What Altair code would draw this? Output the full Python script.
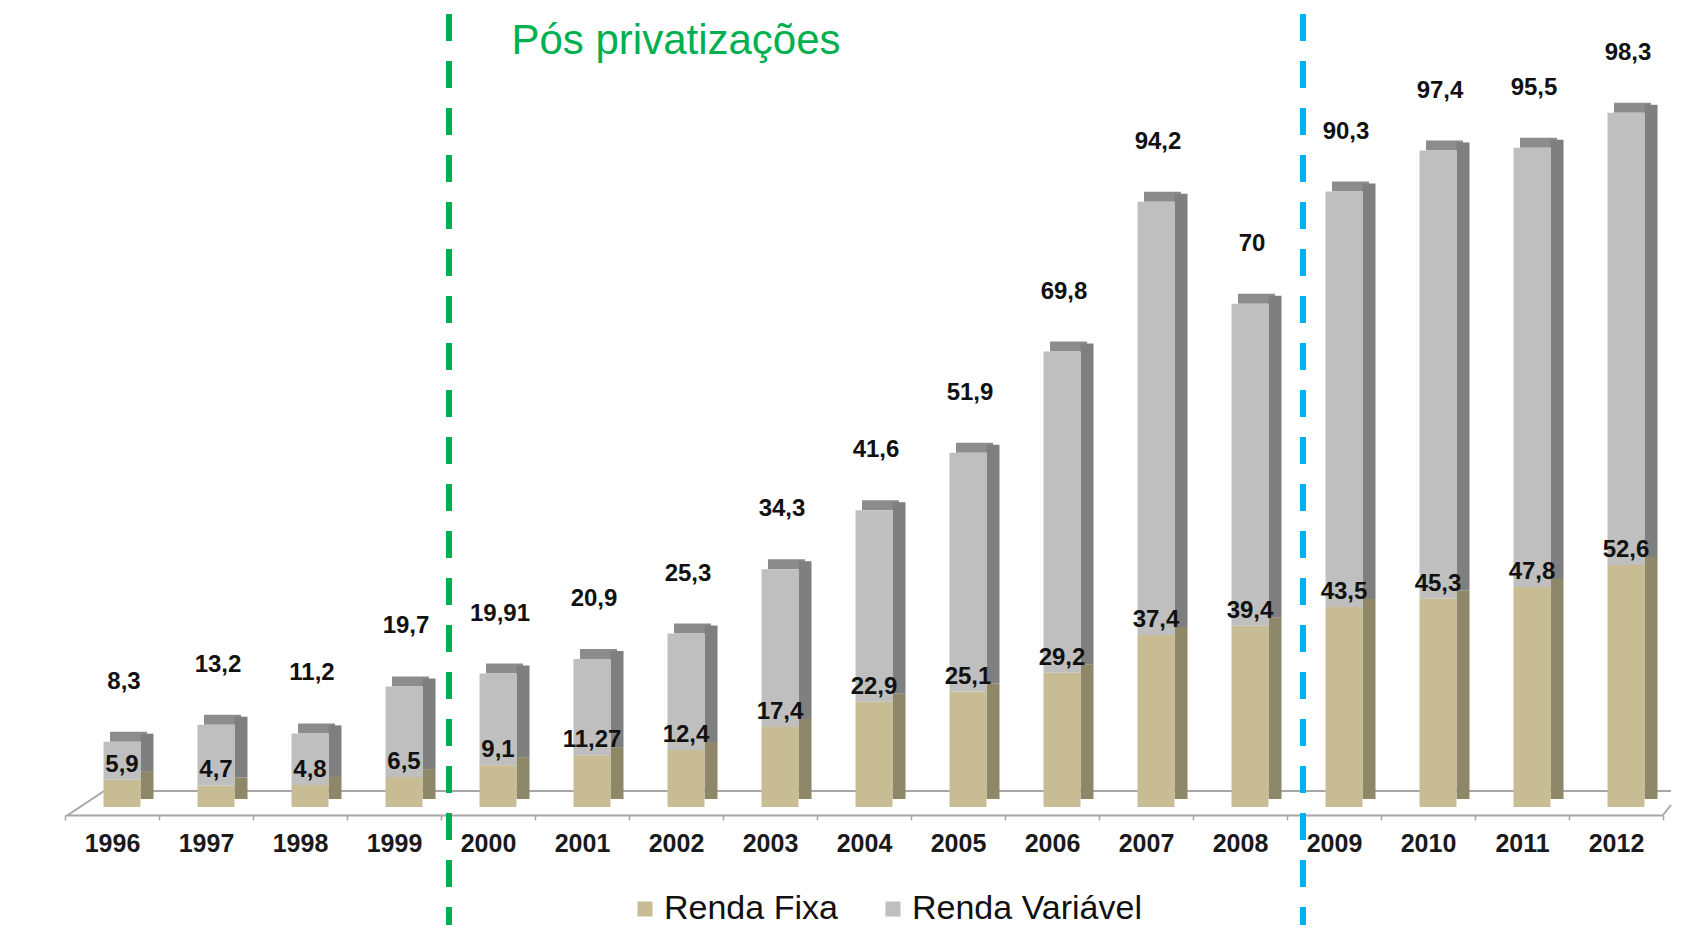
import altair as alt
import pandas as pd

years = [str(y) for y in range(1996, 2013)]
renda_fixa = [5.9, 4.7, 4.8, 6.5, 9.1, 11.27, 12.4, 17.4, 22.9, 25.1, 29.2, 37.4, 39.4, 43.5, 45.3, 47.8, 52.6]
renda_variavel = [8.3, 13.2, 11.2, 19.7, 19.91, 20.9, 25.3, 34.3, 41.6, 51.9, 69.8, 94.2, 70, 90.3, 97.4, 95.5, 98.3]
series = ["Renda Fixa", "Renda Variável"]
front_colors = ["#C7BC93", "#BFBFBF"]
side_colors = ["#8E8768", "#7F7F7F"]
top_color = "#8C8C8C"
title_text = "Pós privatizações"

n = len(years)
wide = pd.DataFrame({"ano": years, "fixa": renda_fixa, "variavel": renda_variavel})
wide["total"] = wide["fixa"] + wide["variavel"]
long = pd.DataFrame({
    "ano": years * 2,
    "serie": [series[0]] * n + [series[1]] * n,
    "valor": renda_fixa + renda_variavel,
    "ordem": [0] * n + [1] * n,
    "lado": [side_colors[0]] * n + [side_colors[1]] * n,
})
one = pd.DataFrame({"k": [0]})

W, H = 1598, 782
FONT = "Liberation Sans"

xenc = alt.X(
    "ano:N",
    scale=alt.Scale(domain=years, paddingInner=0, paddingOuter=0),
    axis=alt.Axis(
        title=None, labelAngle=0, offset=8, domainColor="#A6A6A6", domainWidth=2,
        tickBand="extent", tickSize=5, tickColor="#A6A6A6", tickWidth=1.5,
        labelPadding=11, labelFontSize=25, labelFont=FONT, labelFontWeight="bold",
        labelColor="#1a1a1a", grid=False,
    ),
)
yscale = alt.Scale(domain=[0, 170], nice=False)

# floor
floor_back = alt.Chart(one).mark_rule(color="#A6A6A6", strokeWidth=2).encode(
    x=alt.value(39), x2=alt.value(W + 8), y=alt.value(H - 16))
floor_left = alt.Chart(one).mark_rule(color="#A6A6A6", strokeWidth=2).encode(
    x=alt.value(3), y=alt.value(H + 8), x2=alt.value(39), y2=alt.value(H - 16))
floor_right = alt.Chart(one).mark_rule(color="#A6A6A6", strokeWidth=2).encode(
    x=alt.value(W), y=alt.value(H + 8), x2=alt.value(W + 8), y2=alt.value(H - 2))

top_face = alt.Chart(wide).mark_bar(width=37, xOffset=16.5, yOffset=-10, color=top_color).encode(
    x=xenc,
    y=alt.Y("total:Q", scale=yscale, axis=None),
    y2=alt.Y2("total:Q"),
)

side_face = alt.Chart(long).mark_bar(width=13, xOffset=35, yOffset=-8, y2Offset=-4).encode(
    x=xenc,
    y=alt.Y("valor:Q", stack="zero", scale=yscale, axis=None),
    color=alt.Color("lado:N", scale=None),
    order=alt.Order("ordem:Q"),
)

front_face = alt.Chart(long).mark_bar(width=37, xOffset=10).encode(
    x=xenc,
    y=alt.Y("valor:Q", stack="zero", scale=yscale, axis=None),
    color=alt.Color(
        "serie:N",
        scale=alt.Scale(domain=series, range=front_colors),
        legend=alt.Legend(
            orient="none", legendX=563, legendY=867, direction="horizontal", title=None,
            symbolType="square", symbolSize=225, symbolStrokeWidth=0,
            labelFontSize=34, labelFont=FONT, labelColor="#111111", labelLimit=0,
            columnPadding=38, labelOffset=2, padding=0,
        ),
    ),
    order=alt.Order("ordem:Q"),
)

lab_fixa = alt.Chart(wide).transform_calculate(
    lab="replace(toString(datum.fixa), '.', ',')"
).mark_text(dy=-15, xOffset=10, fontSize=24, fontWeight="bold", font=FONT, color="#111111",
            baseline="middle").encode(
    x=xenc, y=alt.Y("fixa:Q", scale=yscale, axis=None), text="lab:N")

lab_var = alt.Chart(wide).transform_calculate(
    lab="replace(toString(datum.variavel), '.', ',')"
).mark_text(dy=-60, xOffset=12, fontSize=24, fontWeight="bold", font=FONT, color="#111111",
            baseline="middle").encode(
    x=xenc, y=alt.Y("total:Q", scale=yscale, axis=None), text="lab:N")

green_line = alt.Chart(one).mark_rule(color="#00B050", strokeWidth=6, strokeDash=[27, 20],
                                      xOffset=-39).encode(
    x=alt.datum("2000"), y=alt.value(-11), y2=alt.value(900))
blue_line = alt.Chart(one).mark_rule(color="#00B0F0", strokeWidth=6, strokeDash=[27, 20],
                                     xOffset=-31).encode(
    x=alt.datum("2009"), y=alt.value(-11), y2=alt.value(900))

title = alt.Chart(one).mark_text(text=title_text, fontSize=42, color="#00B050", font=FONT,
                                 baseline="alphabetic", align="center").encode(
    x=alt.datum("2002"), y=alt.value(29))

chart = alt.layer(
    floor_back, floor_left, floor_right, top_face, side_face, front_face,
    lab_fixa, lab_var, green_line, blue_line, title,
).properties(
    width=W, height=H,
    padding={"left": 56, "top": 3, "right": 0, "bottom": 0},
).configure_view(stroke=None)

chart.save("out.html", embed_options={"renderer": "svg", "actions": False})
